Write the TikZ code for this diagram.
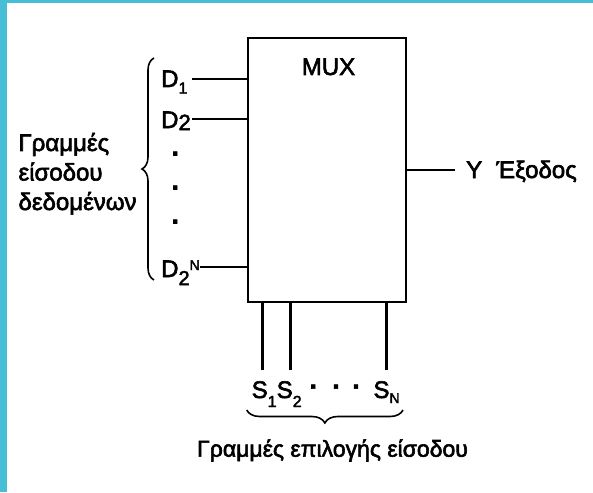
\documentclass[tikz,border=0pt]{standalone}
\usepackage{fontspec}
\setmainfont{Liberation Sans}[FakeBold=2.5]
\usetikzlibrary{decorations.pathreplacing}
\definecolor{barcyan}{RGB}{69,190,214}
\newcommand{\lowsub}[3]{\raisebox{-#2}{\fontsize{#3}{#3}\selectfont #1}}
\begin{document}
\begin{tikzpicture}[x=1pt,y=-1pt,
  txt/.style={font=\fontsize{24}{29.5}\selectfont, inner sep=0pt},
  wire/.style={line width=2.6pt},
  bracestyle/.style={line width=1.6pt, decorate, decoration={brace, amplitude=#1}},
  bracestyle/.default=12pt,
  dotmark/.style={font=\fontsize{26}{26}\selectfont\bfseries, inner sep=0pt}]
\fill[white] (0,0) rectangle (593,492);
\useasboundingbox (0,0) rectangle (593,492);
\fill[barcyan] (0,0) rectangle (7,492);
\fill[barcyan] (0,0) rectangle (593,3);
% box
\node[draw, wire, minimum width=158pt, minimum height=264pt, inner sep=0pt] (mux) at (327,170) {};
\node[txt, anchor=base] (muxlabel) at (328.5,75) {MUX};
% data inputs
\node[txt, anchor=base west] (d1) at (161,87) {D\lowsub{1}{6.5pt}{16}};
\node[txt, anchor=base west] (d2) at (161,128) {D\lowsub{2}{2pt}{22}};
\node[txt, anchor=base west] (d2n) at (161,277) {D\lowsub{2}{8pt}{20}\raisebox{7pt}{\fontsize{14}{14}\selectfont N}};
\coordinate (d1e) at (192,79);
\coordinate (d2e) at (192,119);
\coordinate (d2ne) at (200,267);
\draw[wire] (d1e) -- (d1e -| mux.west);
\draw[wire] (d2e) -- (d2e -| mux.west);
\draw[wire] (d2ne) -- (d2ne -| mux.west);
\node[dotmark] (vd1) at (176,157) {·};
\node[dotmark] (vd2) at (176,191) {·};
\node[dotmark] (vd3) at (176,225) {·};
% data brace and label
\draw[bracestyle=12pt] (154,280) -- (154,58);
\node[txt, anchor=base west, align=left] (datalab) at (18.3,210) {Γραμμές\\είσοδου\\δεδομένων};
% output
\coordinate (ye) at (455,170);
\draw[wire] (mux.east) -- (ye);
\node[txt, anchor=base west] (ylab) at (466,178) {Y\hspace{14pt}Έξοδος};
% select lines
\coordinate (s1e) at (262.3,370);
\coordinate (s2e) at (290.7,370);
\coordinate (sne) at (386.7,370);
\draw[wire] (s1e |- mux.south) -- (s1e);
\draw[wire] (s2e |- mux.south) -- (s2e);
\draw[wire] (sne |- mux.south) -- (sne);
\node[txt, anchor=base west] (s1) at (251.5,398) {S\lowsub{1}{9pt}{16}};
\node[txt, anchor=base west] (s2) at (276.5,398) {S\lowsub{2}{9pt}{16}};
\node[txt, anchor=base west] (sn) at (373.3,398) {S\lowsub{N}{5pt}{14}};
\node[dotmark] (hd1) at (314,390) {·};
\node[dotmark] (hd2) at (336.7,390) {·};
\node[dotmark] (hd3) at (356.7,390) {·};
% select brace and label
\draw[bracestyle=13pt] (403,410) -- (246.7,410);
\node[txt, font=\fontsize{23}{28}\selectfont, anchor=base] (sellab) at (332.5,456.7) {Γραμμές επιλογής είσοδου};
\end{tikzpicture}
\end{document}
